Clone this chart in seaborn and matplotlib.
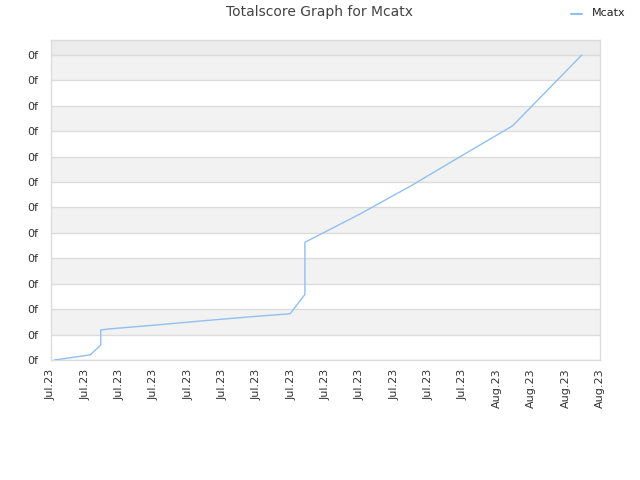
import matplotlib
matplotlib.use("Agg")
import matplotlib.pyplot as plt
import seaborn as sns
import pandas as pd

# data (x in days from first tick, y in tick units)
dias = [0.10, 1.14, 1.45, 1.45, 1.67, 3.0, 4.5, 6.0, 6.97, 7.40, 7.40, 9.0, 10.5, 12.0, 13.45, 14.45, 15.47]
puntos = [0.0, 0.20, 0.59, 1.18, 1.22, 1.37, 1.55, 1.72, 1.82, 2.58, 4.63, 5.74, 6.86, 8.06, 9.21, 10.59, 12.0]
etiquetas_x = ['Jul.23'] * 13 + ['Aug.23'] * 4
etiquetas_y = ['0f'] * 13
jugador = 'Mcatx'

df = pd.DataFrame({'dia': dias, 'score': puntos, 'jugador': jugador})

sns.set_theme(style="white")
plt.rcParams['font.family'] = ['DejaVu Sans']

fig = plt.figure(figsize=(6.4, 4.8), dpi=100)
ax = fig.add_axes([51 / 640, 120 / 480, 549 / 640, 320 / 480])

ymax = 320 / 25.42
# bandas alternas de fondo
for i in range(1, 12, 2):
    ax.axhspan(i, i + 1, color='#f2f2f2', zorder=0, lw=0)
ax.axhspan(12, ymax, color='#ececec', zorder=0, lw=0)
for i in range(13):
    ax.axhline(i, color='#dcdcdc', lw=1, zorder=1)

sns.lineplot(data=df, x='dia', y='score', ax=ax, color='#90c0f2', lw=1,
             sort=False, estimator=None, legend=False, zorder=3)

ax.set_xlim(0, 16)
ax.set_ylim(0, ymax)
ax.set_xticks(range(len(etiquetas_x)))
ax.set_xticklabels(etiquetas_x, rotation=90, fontsize=8, color='#333333')
ax.set_yticks(range(len(etiquetas_y)))
ax.set_yticklabels(etiquetas_y, fontsize=8, color='#333333')
ax.tick_params(axis='y', length=0, pad=9)
ax.tick_params(axis='x', length=0, pad=6)
ax.set_xlabel('')
ax.set_ylabel('')
for s in ax.spines.values():
    s.set_color('#dcdcdc')
    s.set_linewidth(1)

fig.text(0.5, 1 - 12 / 480, 'Totalscore Graph for ' + jugador, ha='center', va='center',
         fontsize=10, color='#444444')
# leyenda
fig.add_artist(plt.Line2D([571 / 640, 582 / 640], [1 - 14 / 480] * 2, color='#90c0f2', lw=1.5))
fig.text(592 / 640, 1 - 13 / 480, jugador, ha='left', va='center', fontsize=8, color='#222222')

fig.savefig('out.png', dpi=100)
